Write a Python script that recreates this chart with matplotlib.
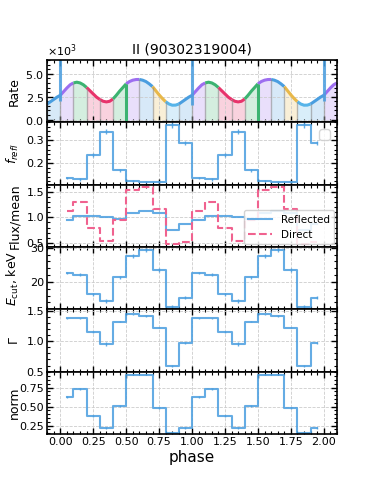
import numpy as np
import matplotlib
matplotlib.use('Agg')
import matplotlib.pyplot as plt
from matplotlib.ticker import AutoMinorLocator, ScalarFormatter

# phase bins of one folded cycle (shown twice)
bin_centers = [0.05, 0.15, 0.25, 0.35, 0.45, 0.55, 0.65, 0.75, 0.85, 0.95]

f_refl = [0.135, 0.129, 0.236, 0.339, 0.169, 0.120, 0.117, 0.117, 0.369, 0.288]
f_refl_err = [0.006, 0.006, 0.010, 0.012, 0.007, 0.004, 0.004, 0.005, 0.012, 0.010]

flux_refl = [0.94, 1.02, 1.02, 1.01, 0.97, 1.08, 1.13, 1.08, 0.75, 0.87]
flux_dir = [1.13, 1.31, 0.80, 0.54, 0.95, 1.54, 1.59, 1.16, 0.47, 0.52]

ecut = [22.6, 22.1, 16.4, 14.4, 21.4, 27.6, 29.4, 23.5, 12.7, 15.4]
ecut_err = [0.4, 0.4, 0.4, 0.5, 0.4, 0.6, 0.6, 0.5, 0.5, 0.5]

gamma = [1.376, 1.376, 1.15, 0.95, 1.32, 1.44, 1.41, 1.22, 0.59, 0.97]
gamma_err = [0.01, 0.01, 0.015, 0.03, 0.01, 0.01, 0.01, 0.01, 0.02, 0.02]

norm = [0.625, 0.73, 0.38, 0.22, 0.51, 0.92, 0.92, 0.48, 0.15, 0.22]
norm_err = [0.01, 0.01, 0.01, 0.015, 0.01, 0.01, 0.01, 0.01, 0.01, 0.01]

# pulse profile, count rate (x1e3) every 0.025 in phase over one cycle
rate_cycle = [2.65, 3.05, 3.45, 3.80, 4.00, 4.08, 4.00, 3.80, 3.50, 3.15,
              2.80, 2.45, 2.20, 2.00, 1.93, 2.00, 2.25, 2.65, 3.10, 3.50,
              3.90, 4.15, 4.30, 4.37, 4.38, 4.30, 4.15, 3.90, 3.60, 3.15,
              2.70, 2.30, 1.95, 1.70, 1.57, 1.58, 1.70, 1.95, 2.20, 2.45]
rate_step = 0.025

# colour of each 0.1-wide phase interval in the profile
bin_colors = ['#9d6ef0', '#3cb371', '#e8336b', '#e8336b', '#3cb371',
              '#9d6ef0', '#4a9ee0', '#e8b84a', '#56b4e9', '#4a9ee0']

# extra vertical markers on the profile
zero_x = [0.0, 1.0, 2.0]
zero_bottom = [2.0, 1.6, 2.0]
green_x = [0.5, 1.5]
green_top = [3.9, 3.9]

line_c = '#4a9ee0'
pink_c = '#f0628f'

x2 = np.concatenate([bin_centers, np.array(bin_centers) + 1.0])


def twice(a):
    return np.concatenate([a, a])


fig, axes = plt.subplots(6, 1, figsize=(3.74, 4.98), dpi=100, sharex=True)
fig.subplots_adjust(left=0.126, right=0.901, top=0.8795, bottom=0.1285, hspace=0)

# --- profile
ax = axes[0]
k = np.arange(-4, 85)
ph = k * rate_step
rate = np.array(rate_cycle)[k % len(rate_cycle)] * 1000
for b in range(-1, 21):
    sl = slice(4 * (b + 1), 4 * (b + 1) + 5)
    c = bin_colors[b % 10]
    ax.fill_between(ph[sl], -1000, rate[sl], color=c, alpha=0.22, lw=0)
    ax.plot(ph[sl], rate[sl], color=c, lw=2.2, solid_capstyle='butt')
    ax.vlines(ph[sl][0], -1000, rate[sl][0], color='0.55', lw=1.0, alpha=0.6)
for xv, yb in zip(zero_x, zero_bottom):
    ax.vlines(xv, yb * 1000, 8000, color=line_c, lw=2.2, alpha=0.85)
for xv, yt in zip(green_x, green_top):
    ax.vlines(xv, -1000, yt * 1000, color='#3cb371', lw=2.2)
ax.set_ylim(-300, 6500)
ax.set_ylabel('Rate')
fmt = ScalarFormatter(useMathText=True)
fmt.set_powerlimits((0, 0))
ax.yaxis.set_major_formatter(fmt)
ax.set_yticks([0, 2500, 5000])
ax.yaxis.get_offset_text().set_fontsize(8)
ax.set_title('II (90302319004)', fontsize=10, pad=5)

# --- reflection fraction
ax = axes[1]
ax.step(x2, twice(f_refl), where='mid', color=line_c, lw=1.5, alpha=0.85)
ax.errorbar(x2, twice(f_refl), yerr=twice(f_refl_err), fmt='none', ecolor=line_c, elinewidth=1.0, alpha=0.85)
ax.set_ylim(0.105, 0.38)
ax.set_yticks([0.2, 0.3])
ax.set_ylabel(r'$f_{refl}$')
ax.legend(handles=[], loc='upper right')

# --- flux
ax = axes[2]
ax.step(x2, twice(flux_refl), where='mid', color=line_c, lw=1.5, alpha=0.85, label='Reflected')
ax.step(x2, twice(flux_dir), where='mid', color=pink_c, lw=1.5, ls='--', label='Direct')
ax.set_ylim(0.42, 1.64)
ax.set_yticks([0.5, 1.0, 1.5])
ax.set_ylabel('Flux/mean')
ax.legend(loc='lower right', fontsize=7.5, framealpha=0.85, borderaxespad=0.3,
          handlelength=2.3)

# --- cutoff energy
ax = axes[3]
ax.step(x2, twice(ecut), where='mid', color=line_c, lw=1.5, alpha=0.85)
ax.errorbar(x2, twice(ecut), yerr=twice(ecut_err), fmt='none', ecolor=line_c, elinewidth=1.0, alpha=0.85)
ax.set_ylim(12.0, 30.2)
ax.set_yticks([20, 30])
ax.set_ylabel(r'$E_{\rm cut}$, keV')

# --- photon index
ax = axes[4]
ax.step(x2, twice(gamma), where='mid', color=line_c, lw=1.5, alpha=0.85)
ax.errorbar(x2, twice(gamma), yerr=twice(gamma_err), fmt='none', ecolor=line_c, elinewidth=1.0, alpha=0.85)
ax.set_ylim(0.5, 1.52)
ax.set_yticks([0.5, 1.0, 1.5])
ax.set_ylabel(r'$\Gamma$')

# --- normalisation
ax = axes[5]
ax.step(x2, twice(norm), where='mid', color=line_c, lw=1.5, alpha=0.85)
ax.errorbar(x2, twice(norm), yerr=twice(norm_err), fmt='none', ecolor=line_c, elinewidth=1.0, alpha=0.85)
ax.set_ylim(0.14, 0.96)
ax.set_yticks([0.25, 0.5, 0.75])
ax.set_ylabel('norm')
ax.set_xlabel('phase', fontsize=11, labelpad=2)

for ax in axes:
    ax.set_xlim(-0.1, 2.1)
    ax.set_xticks([0, 0.25, 0.5, 0.75, 1.0, 1.25, 1.5, 1.75, 2.0])
    ax.xaxis.set_minor_locator(AutoMinorLocator(5))
    ax.yaxis.set_minor_locator(AutoMinorLocator(5))
    ax.tick_params(which='both', direction='in', top=True, right=True, labelsize=8, pad=2)
    ax.tick_params(which='major', length=4, width=1)
    ax.tick_params(which='minor', length=2, width=0.8)
    ax.grid(True, ls='--', color='0.8', lw=0.6)
    ax.yaxis.label.set_size(9)
    ax.yaxis.set_label_coords(-0.09, 0.5)
    for s in ax.spines.values():
        s.set_linewidth(1.2)

fig.savefig('out.png', dpi=100)
